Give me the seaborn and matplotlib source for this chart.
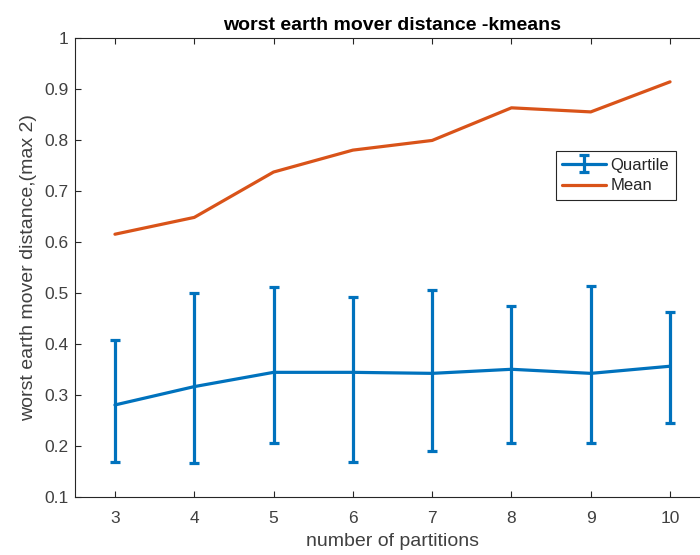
import matplotlib
matplotlib.use("Agg")
import matplotlib.pyplot as plt
import seaborn as sns
import numpy as np
import pandas as pd

# number of partitions
partitions = [3, 4, 5, 6, 7, 8, 9, 10]
# mean worst earth mover distance
mean_vals = [0.615, 0.648, 0.737, 0.780, 0.799, 0.863, 0.855, 0.914]
# median with lower / upper quartiles
median_vals = [0.280, 0.316, 0.344, 0.344, 0.342, 0.350, 0.342, 0.356]
q_low = [0.169, 0.166, 0.206, 0.169, 0.190, 0.206, 0.206, 0.245]
q_high = [0.408, 0.500, 0.512, 0.492, 0.505, 0.474, 0.514, 0.463]

sns.set_theme(style="white")
plt.rcParams["font.family"] = ["Liberation Sans", "DejaVu Sans"]

BLUE = "#0072BD"
ORANGE = "#D95319"
DARK = "#262626"
GRAY = "#404040"

df = pd.DataFrame({"partitions": partitions, "mean": mean_vals, "median": median_vals,
                   "low": q_low, "high": q_high})

fig = plt.figure(figsize=(7.0, 5.55), dpi=100)
ax = fig.add_axes([75.3 / 700, (555 - 496.7) / 555, (709.7 - 75.3) / 700, (496.7 - 38) / 555])

yerr = np.vstack([df["median"] - df["low"], df["high"] - df["median"]])
ax.errorbar(df["partitions"], df["median"], yerr=yerr, color=BLUE, lw=2.3,
            elinewidth=2.3, capsize=3.4, capthick=2.3, label="Quartile", zorder=3)
sns.lineplot(data=df, x="partitions", y="mean", color=ORANGE, lw=2.3, ax=ax,
             label="Mean", zorder=3)

ax.set_xlim(2.5, 10.5)
ax.set_ylim(0.1, 1.0)
ax.set_xticks(partitions)
ax.set_yticks([0.1, 0.2, 0.3, 0.4, 0.5, 0.6, 0.7, 0.8, 0.9, 1.0])
ax.set_yticklabels(["0.1", "0.2", "0.3", "0.4", "0.5", "0.6", "0.7", "0.8", "0.9", "1"])

for s in ax.spines.values():
    s.set_visible(True)
    s.set_color(DARK)
    s.set_linewidth(0.8)
ax.tick_params(direction="in", length=4, width=0.8, color=DARK, labelcolor=GRAY,
               labelsize=12.5, top=True, right=True, bottom=True, left=True)
ax.tick_params(axis="x", pad=10)
ax.tick_params(axis="y", pad=5)

ax.set_xlabel("number of partitions", fontsize=14, color=GRAY, labelpad=5)
ax.set_ylabel("worst earth mover distance,(max 2)", fontsize=14, color=GRAY, labelpad=5)
ax.set_title("worst earth mover distance -kmeans", fontsize=14, fontweight="bold",
             color="black", pad=6)

handles, labels = ax.get_legend_handles_labels()
order = [labels.index("Quartile"), labels.index("Mean")]
leg = ax.legend([handles[i] for i in order], [labels[i] for i in order],
                loc="upper left", bbox_to_anchor=(0.757, 0.754), borderaxespad=0,
                fancybox=False, framealpha=1, edgecolor=DARK, fontsize=12,
                handlelength=2.6, handletextpad=0.3, borderpad=0.4, labelspacing=0.35)
leg.get_frame().set_linewidth(0.8)
for t in leg.get_texts():
    t.set_color(DARK)

fig.savefig("out.png", dpi=100, facecolor="white")
